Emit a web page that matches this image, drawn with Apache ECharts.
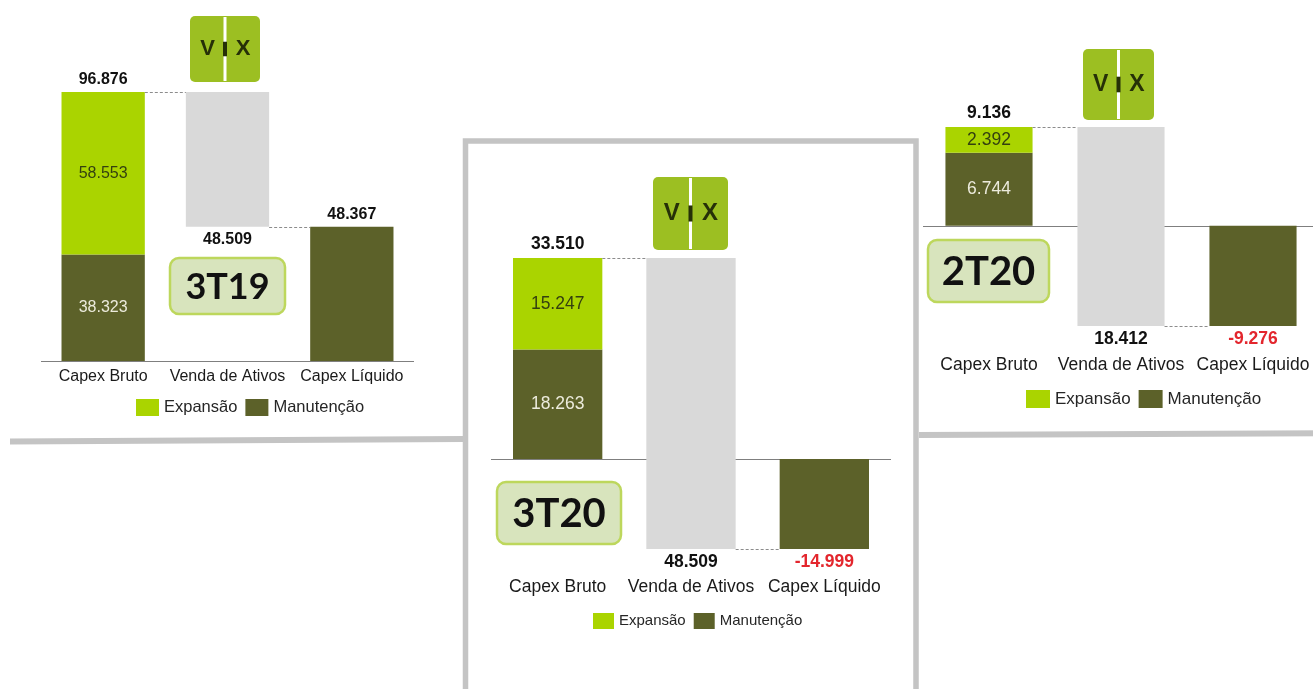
<!DOCTYPE html>
<html>
<head>
<meta charset="utf-8">
<title>Capex 3T19 / 3T20 / 2T20</title>
<script src="https://cdn.jsdelivr.net/npm/echarts/dist/echarts.min.js"></script>
<style>
  html, body { margin: 0; padding: 0; background: #fff; overflow: hidden; }
  #chart { width: 1325px; height: 689px; }
</style>
</head>
<body>
<div id="chart"></div>
<script>
// dados (R$ mil)
var categories = ['Capex Bruto', 'Venda de Ativos', 'Capex Líquido'];
var periods = ['3T19', '3T20', '2T20'];
var expansao = [58553, 15247, 2392];
var manutencao = [38323, 18263, 6744];
var capexBruto = [96876, 33510, 9136];
var vendaAtivos = [48509, 48509, 18412];
var capexLiquido = [48367, -14999, -9276];

var C = {
  exp: '#aad400',
  manut: '#5c6129',
  venda: '#d9d9d9',
  red: '#e3262d',
  txt: '#111',
  border: '#c4c4c4'
};
var FONT = 'Liberation Sans';

// posição de cada painel na figura
var layout = [
  { grid: { left: 41, top: 92, width: 373, height: 269 }, barWidth: '67%', fs: 16, axisMargin: 8,
    legLeft: 136, legTop: 399, legW: 23, legH: 17, legFs: 16.5,
    logo: [190, 16, 70, 66], badge: [170, 258, 115, 56, 36] },
  { grid: { left: 491, top: 258, width: 400, height: 291 }, barWidth: '67%', fs: 17.5, axisMargin: 29,
    legLeft: 593, legTop: 613, legW: 21, legH: 16, legFs: 15,
    logo: [653, 177, 75, 73], badge: [497, 482, 124, 62, 40] },
  { grid: { left: 923, top: 127, width: 396, height: 199 }, barWidth: '66%', fs: 17.5, axisMargin: 30,
    legLeft: 1026, legTop: 390, legW: 24, legH: 18, legFs: 17,
    logo: [1083, 49, 71, 71], badge: [928, 240, 121, 62, 40] }
];

function fmt(v) {
  return (v < 0 ? '-' : '') + String(Math.abs(v)).replace(/\B(?=(\d{3})+(?!\d))/g, '.');
}

var grids = [], xAxes = [], yAxes = [], legends = [], series = [], graphics = [];

function logo(x, y, w, h) {
  var f = 'bold ' + Math.round(h * 0.33) + 'px ' + FONT;
  var letter = function (t, cx) {
    return { type: 'text', style: { text: t, x: cx, y: h * 0.5, font: f, fill: '#263008',
      align: 'center', verticalAlign: 'middle', textAlign: 'center', textVerticalAlign: 'middle' } };
  };
  return { type: 'group', x: x, y: y, children: [
    { type: 'rect', shape: { x: 0, y: 0, width: w, height: h, r: 5 }, style: { fill: '#9cbf22' } },
    { type: 'rect', shape: { x: w / 2 - 1.5, y: 1, width: 3, height: h - 2 }, style: { fill: '#fff' } },
    { type: 'rect', shape: { x: w / 2 - 2, y: h * 0.39, width: 4, height: h * 0.22 }, style: { fill: '#263008' } },
    letter('V', w * 0.25),
    letter('X', w * 0.76)
  ] };
}

function badge(x, y, w, h, fs, text) {
  return { type: 'group', x: x, y: y, children: [
    { type: 'rect', shape: { x: 0, y: 0, width: w, height: h, r: 9 },
      style: { fill: '#d8e4bd', stroke: '#bdd75c', lineWidth: 2.5 } },
    { type: 'text', style: { text: text, x: w / 2, y: h / 2 + 1, font: 'bold ' + fs + 'px Lato, sans-serif',
      fill: '#111', align: 'center', verticalAlign: 'middle', textAlign: 'center', textVerticalAlign: 'middle' } }
  ] };
}

periods.forEach(function (per, i) {
  var lay = layout[i];
  var gross = capexBruto[i], liq = capexLiquido[i];
  var ratio = parseFloat(lay.barWidth) / 100;

  grids.push(lay.grid);
  xAxes.push({
    type: 'category', gridIndex: i, data: categories,
    axisLine: { show: false, onZero: false }, axisTick: { show: false },
    axisLabel: { interval: 0, margin: lay.axisMargin, fontSize: lay.fs, color: '#1a1a1a', fontFamily: FONT }
  });
  yAxes.push({
    type: 'value', gridIndex: i, show: false, splitLine: { show: false },
    min: Math.min(0, liq), max: gross
  });
  legends.push({
    data: ['Expansão', 'Manutenção'], left: lay.legLeft, top: lay.legTop, icon: 'rect',
    itemWidth: lay.legW, itemHeight: lay.legH, itemGap: 8, selectedMode: false, padding: 0,
    textStyle: { fontSize: lay.legFs, color: '#262626', fontFamily: FONT }
  });

  // duas pilhas sobrepostas na mesma posição (barGap -100%)
  var common = { type: 'bar', xAxisIndex: i, yAxisIndex: i, barWidth: lay.barWidth, barGap: '-100%' };
  var inside = function (color) {
    return { show: true, position: 'inside', color: color, fontSize: lay.fs, fontFamily: FONT,
      formatter: function (p) { return fmt(p.value); } };
  };

  // linha do zero, atrás das barras
  series.push({
    type: 'custom', xAxisIndex: i, yAxisIndex: i, z: 1, silent: true, data: [[0, 0]],
    renderItem: function (params, api) {
      var cs = params.coordSys;
      var y = Math.round(api.coord([0, 0])[1]) + 0.5;
      return { type: 'line', shape: { x1: cs.x, y1: y, x2: cs.x + cs.width, y2: y },
        style: { stroke: '#7f7f7f', lineWidth: 1 } };
    }
  });

  series.push(
    Object.assign({}, common, { name: 'Manutenção', stack: 'capex' + i, data: [manutencao[i], '-', '-'],
      itemStyle: { color: C.manut }, label: inside('#ecebdc') }),
    Object.assign({}, common, { name: 'Expansão', stack: 'capex' + i, data: [expansao[i], '-', '-'],
      itemStyle: { color: C.exp }, label: inside('#34400f') }),
    Object.assign({}, common, { name: 'Capex Líquido', stack: 'capex' + i, data: ['-', '-', liq],
      itemStyle: { color: C.manut } }),
    // base invisível: a venda de ativos vai do capex líquido ao capex bruto
    Object.assign({}, common, { name: 'base', stack: 'venda' + i, stackStrategy: 'all', data: ['-', liq, '-'],
      itemStyle: { color: 'rgba(0,0,0,0)' } }),
    Object.assign({}, common, { name: 'Venda de Ativos', stack: 'venda' + i, stackStrategy: 'all',
      data: ['-', vendaAtivos[i], '-'], itemStyle: { color: C.venda } })
  );

  // linhas tracejadas entre as barras
  series.push({
    type: 'custom', xAxisIndex: i, yAxisIndex: i, z: 3, silent: true,
    data: [[0, gross], [1, liq]],
    renderItem: function (params, api) {
      var p0 = api.coord([api.value(0), api.value(1)]);
      var p1 = api.coord([api.value(0) + 1, api.value(1)]);
      var half = (p1[0] - p0[0]) * ratio / 2;
      var y = Math.round(p0[1]) + 0.5;
      return { type: 'line', shape: { x1: p0[0] + half, y1: y, x2: p1[0] - half, y2: y },
        style: { stroke: '#8c8c8c', lineWidth: 1, lineDash: [3, 2] } };
    }
  });

  // rótulos de total
  var lbl = { show: true, fontSize: lay.fs, fontWeight: 'bold', color: C.txt, fontFamily: FONT, distance: 4 };
  series.push({
    type: 'scatter', xAxisIndex: i, yAxisIndex: i, symbolSize: 1, silent: true,
    itemStyle: { color: 'rgba(0,0,0,0)', opacity: 1 }, label: lbl,
    data: [
      { value: [0, gross], label: { position: 'top', formatter: fmt(gross) } },
      { value: [1, liq], label: { position: 'bottom', formatter: fmt(vendaAtivos[i]) } },
      { value: [2, liq], label: { position: liq >= 0 ? 'top' : 'bottom', formatter: fmt(liq),
        color: liq < 0 ? C.red : C.txt } }
    ]
  });

  graphics.push(logo.apply(null, lay.logo));
  graphics.push(badge(lay.badge[0], lay.badge[1], lay.badge[2], lay.badge[3], lay.badge[4], per));
});

// molduras cinza da montagem
graphics.unshift(
  { type: 'polyline', shape: { points: [[10, 441.5], [463, 439]] }, style: { stroke: C.border, lineWidth: 6, fill: null } },
  { type: 'polyline', shape: { points: [[465.5, 700], [465.5, 141], [916, 141], [916, 700]] },
    style: { stroke: C.border, lineWidth: 5.5, fill: null } },
  { type: 'polyline', shape: { points: [[919, 435], [1325, 433.3]] }, style: { stroke: C.border, lineWidth: 6, fill: null } }
);

var myChart = echarts.init(document.getElementById('chart'));
myChart.setOption({
  animation: false,
  backgroundColor: '#fff',
  textStyle: { fontFamily: FONT },
  grid: grids,
  xAxis: xAxes,
  yAxis: yAxes,
  legend: legends,
  graphic: { elements: graphics },
  series: series
});
</script>
</body>
</html>
